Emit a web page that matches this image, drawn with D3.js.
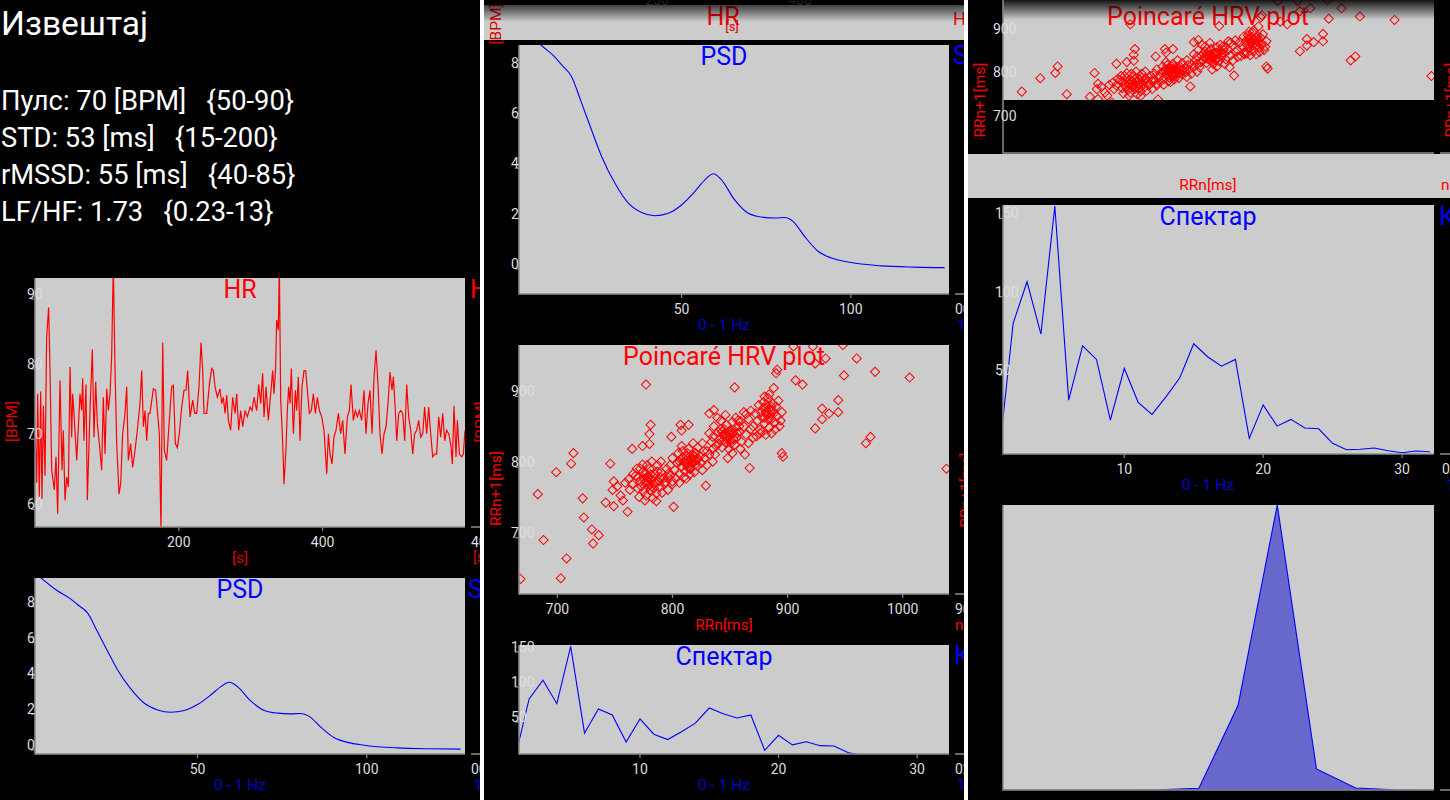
<!DOCTYPE html>
<html><head><meta charset="utf-8">
<script src="https://cdn.jsdelivr.net/npm/d3@7/dist/d3.min.js"></script>
<style>
html,body{margin:0;padding:0;background:#000;overflow:hidden}
svg{display:block}
text{font-family:Roboto,"Noto Sans",sans-serif;white-space:pre}
</style></head><body>
<svg id="chart" width="1450" height="800"></svg>
<script>
// ================= DATA =================
const reportTitle = "Извештај";
const reportLines = [
  "Пулс: 70 [BPM]   {50-90}",
  "STD: 53 [ms]   {15-200}",
  "rMSSD: 55 [ms]   {40-85}",
  "LF/HF: 1.73   {0.23-13}"
];

// HR tachogram: time [s] and heart rate [BPM]
const hrTime = [0,2.3,3.7,6,7.9,9.7,11.6,13.9,16.2,19,20.9,23.2,26.9,29.2,31.5,34.8,37.6,39.4,41.7,44,
46.4,48.7,51,52.4,54.2,58,62.6,64.9,66.3,68.1,70.9,72.8,76.5,79.7,82.1,84.4,86.7,89.5,92.7,95,
97.4,99.7,102,104.3,106.6,108.9,111.3,113.6,116.8,119.1,121.9,125.2,127.5,129.8,133,135.8,139.1,142.3,146,148.4,
150.7,153,155.3,157.6,159.9,164.6,167.8,170.1,172.9,175.2,177.6,179.9,183.1,186.8,190.1,192.4,195.2,198,200.7,204,
207.2,210,212.3,215.6,219.3,222.1,224.8,228.1,230.9,233.2,235,238.8,242.5,245.7,248,250.3,253.6,257.3,259.6,261.9,
264.3,266.6,268.9,272.1,274.9,278.2,280.5,283.3,286,288.8,292.1,295.3,299,301.8,304.6,308.3,311.1,313.9,316.6,318.5,
321.3,324.5,327.8,330.5,332.4,334.7,336.1,338.4,339.8,341.7,344.5,346.3,349.1,350.9,352.8,354.7,356.5,359.3,362.1,363.9,
366.2,368.6,371.3,374.1,376.4,378.8,381.5,384.3,387.1,389.9,392.7,395.5,398.7,401.9,405.7,408,410.3,413.1,415.8,418.6,
421.9,425.1,427.9,431.1,434.4,437.2,439.5,442.7,445.5,448.3,451.1,454.3,457.6,460.3,463.1,465.9,468.7,471.5,474.3,477,
479.8,482.6,485.4,488.2,490.9,493.7,496.5,498.4,501.1,503,505.8,508.6,511.4,514.1,516.9,519.7,522.5,525.3,528,530.8,
533.6,536.4,539.2,541.9,544.7,547.5,550.3,553.1,555.8,558.6,561.4,564.2,567,569.8,572.5,575.3,578.1,580.4,582.7,585.5,
587.4,590.2,593.4,595.7,598];
const hrBpm = [70.5,63,75.7,61,76,60.7,74,64,83.8,88,79,64.8,62,66.7,58.6,77.6,64.8,70.5,60.5,63.8,
62.4,79.5,69.5,75.7,72.9,66.2,75.7,73.3,77.9,69,77,60.5,73.3,82,69.5,77.4,71.4,68.6,64.8,75.2,
67.1,76.4,73.3,75.7,81,94,79,68.6,61.4,62.8,70,72.9,76.7,66.2,68.6,65.2,67.6,70.5,74.3,79,
71,73.3,69,72.9,72.9,76.4,76.2,73.3,70,56,83,67.6,66.2,71.9,76.7,76.9,68.6,68,70,73.8,
76.2,76.2,79,72.4,74.8,72.9,72.9,76.7,83,79,72.9,72.9,77,79.3,79,76.7,75.2,76.4,74.3,75.2,
72.9,75.5,71.9,70.5,75.2,72.9,75.7,70.5,73.3,71,73.3,72.4,73.8,73.3,75.2,73.3,77,74.3,78.6,72.4,
76.7,71.9,75.7,79,75.7,79.5,86.2,84.8,94,74.8,68.6,62.8,68,73.3,76.7,74.3,79.3,70,76.2,73.3,
78.1,69,76.7,79,79,76.2,72.9,73.3,75.7,72.9,75.2,73.3,72.4,70.5,64.3,70,67.1,65.7,69.5,70.5,
72.9,70,71.9,67.1,72.4,73.3,77,71.9,73.3,72.4,73.3,71.9,76.2,70,74.3,76.2,70,78.1,81.9,77,
70,67.1,70,71,74.3,78.8,76.2,78.1,73.3,69,72.9,73.3,72.9,69,77,72.4,70.5,67.1,70,70.5,
71.9,69.5,70,73.8,70,73.8,70,66.7,67.1,67.1,72.4,69.5,72.9,69,70.5,70,68.6,65.7,74,66.7,
71.9,67.1,66.7,67.1,70.5];
const hrTicksX = [200, 400];
const hrTicksY = [60, 70, 80, 90];

// PSD
const psdFreq = [3.5,8.5,12.4,14.6,17.5,20.5,23.4,26.4,30.3,34.3,38.2,42.1,46.1,50,53.9,56.9,59.4,61.8,65.7,69.7,73.6,77.5,80.5,83,86.4,90.4,94.3,99.2,109,118.9,127.7];
const psdPower = [9.65,8.9,8.45,8.11,7.65,6.59,5.53,4.47,3.41,2.61,2.24,2.11,2.21,2.54,3.07,3.54,3.78,3.54,2.74,2.21,2.06,2.02,2.04,1.88,1.28,0.69,0.43,0.27,0.12,0.07,0.05];
const psdTicksX = [50, 100];
const psdTicksY = [0, 2, 4, 6, 8];

// Poincaré: [RRn, RRn+1] in ms
const rrPairs = [
[668,634],[683,754],[688,689],[699,785],[703,635],[708,663],[712,797],[714,812],[722,748],[723,721],
[730,704],[731,684],[736,696],[746,797],[742,742],[749,737],[748,760],[749,772],[759,770],[761,729],
[765,818],[774,822],[777,909],[781,852],[780,839],[780,825],[799,835],[801,736],[807,852],[808,844],
[814,852],[829,766],[832,868],[836,873],[854,905],[859,857],[864,867],[867,791],[876,840],[880,892],
[888,904],[890,925],[891,930],[895,812],[896,807],[907,915],[913,909],[924,847],[924,939],[930,875],
[930,860],[936,868],[933,946],[944,887],[944,870],[949,922],[960,946],[968,826],[972,835],[976,927],
[1006,919],[1038,790],[905,963],[922,963],[948,965],
[762,775],[765,768],[768,780],[770,762],[772,772],[774,785],[775,758],[776,770],[778,778],[779,765],
[780,790],[781,760],[782,775],[784,768],[785,782],[786,755],[788,772],[789,764],[790,785],[792,776],
[793,768],[795,790],[796,760],[798,780],[800,772],[771,750],[777,752],[783,748],[769,790],[774,796],
[787,795],[791,756],[766,783],[773,765],[779,777],[784,762],[789,778],[794,771],[797,784],[763,760],
[778,795],[782,800],[776,745],[786,744],[770,778],[772,790],[781,782],[779,771],[783,779],[777,783],
[785,770],[780,767],[775,776],[787,786],[782,765],
[796,778],[798,795],[800,805],[802,788],[804,798],[805,812],[806,783],[807,803],[808,793],[809,815],
[810,800],[811,786],[812,808],[813,796],[814,818],[815,790],[816,804],[817,810],[818,798],[819,785],
[820,812],[821,802],[822,794],[824,808],[825,798],[826,788],[828,805],[830,795],[832,810],[803,776],
[806,770],[810,778],[815,782],[812,776],[818,826],[822,820],[808,822],[827,815],[835,800],[800,768],
[812,802],[814,806],[816,796],[818,802],[813,792],[811,798],[817,806],[815,800],[820,796],[809,806],
[813,812],[819,808],[806,800],[822,804],[816,790],
[830,815],[832,840],[834,828],[836,850],[838,822],[840,842],[841,832],[842,858],[843,820],[844,838],
[845,846],[846,828],[847,852],[848,836],[849,818],[850,844],[851,830],[852,856],[853,840],[854,824],
[855,848],[856,834],[858,842],[860,828],[862,850],[864,838],[866,826],[868,846],[870,834],[839,862],
[846,866],[855,862],[837,810],[852,812],[859,818],[863,810],[848,805],[835,835],[857,858],[866,860],
[846,840],[848,832],[850,838],[844,830],[852,844],[847,826],[849,842],[845,836],[851,826],[853,832],
[842,846],[856,840],[840,826],[858,850],[843,842],
[870,850],[872,868],[874,858],[875,880],[876,845],[877,870],[878,862],[879,884],[880,854],[881,876],
[882,866],[883,890],[884,848],[885,872],[886,860],[887,882],[888,868],[889,855],[890,878],[891,864],
[892,886],[893,850],[884,895],[878,842],[886,840],[873,836],[881,838],[889,845],[895,870],[894,858],
[882,868],[884,874],[880,862],[886,878],[883,860],[881,870],[885,866],[879,876],[887,872],[882,880],
[790,800],[826,826],[835,818],[862,870],[868,872],[755,752],[752,765],[757,745]
];
const rrTicksX = [700, 800, 900, 1000];
const rrTicksY = [700, 800, 900];

// Spectrum
const specFreq = [1,2,3,4,5,6,7,8,9,10,11,12,13,14,15,16,17,18,19,20,21,22,23,24,25,26,27,28,29,30,31,32];
const specPower = [0,83,109.6,76.2,158,34,68.7,60,21.3,54.3,32.6,24.9,36.1,48.3,70,61.7,55.7,60,9.6,31,17.4,21.7,16.2,15.7,6.4,2.3,2.6,3.4,1.7,0.4,1.5,1];
const specTicksX = [10, 20, 30];
const specTicksY = [50, 100, 150];

// Histogram (area)
const histBin = [0,1,2,3,4,5,6,7,8,9,10,11];
const histShare = [0,0,0,0,0.1,0.6,29.7,100,7.4,0.7,0.1,0];

// ================= DRAWING =================
const svg = d3.select("#chart");
const defs = svg.append("defs");
let clipN = 0;
function clip(x, y, w, h) {
  const id = "cp" + (clipN++);
  defs.append("clipPath").attr("id", id).append("rect")
    .attr("x", x).attr("y", y).attr("width", w).attr("height", h);
  return `url(#${id})`;
}
const grad = defs.append("linearGradient").attr("id", "topfade")
  .attr("x1", 0).attr("y1", 0).attr("x2", 0).attr("y2", 1);
grad.append("stop").attr("offset", "0%").attr("stop-color", "#000").attr("stop-opacity", 0.9);
grad.append("stop").attr("offset", "100%").attr("stop-color", "#000").attr("stop-opacity", 0);

svg.append("rect").attr("width", 1450).attr("height", 800).attr("fill", "#000");

const COLS = [{x: 0, w: 480}, {x: 484, w: 480}, {x: 968, w: 482}];
const colG = COLS.map(c => svg.append("g").attr("clip-path", clip(c.x, 0, c.w, 800)));
svg.append("rect").attr("x", 480).attr("y", 0).attr("width", 4).attr("height", 800).attr("fill", "#fff");
svg.append("rect").attr("x", 964).attr("y", 0).attr("width", 4).attr("height", 800).attr("fill", "#fff");

const GREY = "#cccccc", AXIS = "#8c8c8c", TICK = "#dedede";
const RED = "#ff0000", BLUE = "#0000ff", DRED = "#dd0000", DBLUE = "#0000cc";

function txt(g, x, y, s, o = {}) {
  const t = g.append("text").attr("x", x).attr("y", y).text(s)
    .attr("fill", o.fill || "#fff").attr("font-size", o.size || 14)
    .attr("text-anchor", o.anchor || "start");
  if (o.rotate) t.attr("transform", `rotate(${o.rotate},${x},${y})`);
  return t;
}

function panel(g, o) {
  const L = o.left, T = o.top, W = o.width, H = o.height, B = T + H, R = L + W;
  const x = d3.scaleLinear().domain(o.xDomain).range([L, R]);
  const y = d3.scaleLinear().domain(o.yDomain).range([B, T]);
  g.append("rect").attr("x", L).attr("y", T).attr("width", W).attr("height", H).attr("fill", GREY);
  const inner = g.append("g").attr("clip-path", clip(L, T, W, H));
  o.draw(inner, x, y);
  g.append("path").attr("d", `M${L},${T}V${B}H${R}`).attr("fill", "none")
    .attr("stroke", AXIS).attr("stroke-width", 1.5);
  g.append("line").attr("x1", R + 6).attr("x2", R + 16).attr("y1", B).attr("y2", B)
    .attr("stroke", AXIS).attr("stroke-width", 1.5);
  const dy = o.yLabelDy || 0;
  (o.yTicks || []).forEach(v => {
    const yy = y(v) + dy;
    g.append("line").attr("x1", L - 4).attr("x2", L).attr("y1", yy).attr("y2", yy)
      .attr("stroke", AXIS).attr("stroke-width", 1.2);
    txt(g, L - 8, yy, String(v), {fill: TICK, size: 14});
  });
  (o.xTicks || []).forEach(v => {
    g.append("line").attr("x1", x(v)).attr("x2", x(v)).attr("y1", B).attr("y2", B + 4)
      .attr("stroke", AXIS).attr("stroke-width", 1.2);
    txt(g, x(v), B + 20, String(v), {fill: TICK, size: 14, anchor: "middle"});
  });
  const cx = o.col + 240;
  if (o.title) txt(g, cx, T + 20, o.title, {fill: o.titleColor, size: 25, anchor: "middle"});
  if (o.xLabel) txt(g, cx, B + 36, o.xLabel, {fill: o.xLabelColor, size: 15.5, anchor: "middle"});
  if (o.yLabel) txt(g, o.col + 17, (T + B + 38) / 2, o.yLabel,
    {fill: o.yLabelColor, size: 15.5, anchor: "middle", rotate: -90});
  return {x, y};
}

// --- draw helpers ---
const hrLine = (g, x, y) => g.append("path")
  .attr("d", d3.line().x((d, i) => x(hrTime[i])).y(d => y(d))(hrBpm))
  .attr("fill", "none").attr("stroke", RED).attr("stroke-width", 1.2);
const psdLine = (g, x, y) => g.append("path")
  .attr("d", d3.line().curve(d3.curveMonotoneX).x((d, i) => x(psdFreq[i])).y(d => y(d))(psdPower))
  .attr("fill", "none").attr("stroke", BLUE).attr("stroke-width", 1.1);
const specLine = (g, x, y) => g.append("path")
  .attr("d", d3.line().x((d, i) => x(specFreq[i])).y(d => y(d))(specPower))
  .attr("fill", "none").attr("stroke", BLUE).attr("stroke-width", 1.1);
const diamond = d3.symbol(d3.symbolSquare, 42)();
const rrPoints = (g, x, y) => g.selectAll("path.pt").data(rrPairs).join("path")
  .attr("class", "pt").attr("d", diamond)
  .attr("transform", d => `translate(${x(d[0])},${y(d[1])}) rotate(45)`)
  .attr("fill", "none").attr("stroke", RED).attr("stroke-width", 1);

// ---------- Column 1 ----------
const g1 = colG[0];
txt(g1, 1, 35, reportTitle, {size: 33.5});
reportLines.forEach((s, i) => txt(g1, 1, [110, 147, 184, 221][i], s, {size: 27.3}));

panel(g1, {col: 0, left: 35, top: 278, width: 430, height: 249,
  xDomain: [0, 598], yDomain: [56.7, 92.2], xTicks: hrTicksX, yTicks: hrTicksY, yLabelDy: 5.5,
  title: "HR", titleColor: RED, xLabel: "[s]", xLabelColor: DRED, yLabel: "[BPM]", yLabelColor: DRED,
  draw: hrLine});
panel(g1, {col: 0, left: 35, top: 578, width: 430, height: 176,
  xDomain: [2, 129], yDomain: [-0.22, 9.6], xTicks: psdTicksX, yTicks: psdTicksY,
  title: "PSD", titleColor: BLUE, xLabel: "0 - 1 Hz", xLabelColor: DBLUE, draw: psdLine});
// edge fragments col1
txt(g1, 470, 298, "HR", {fill: RED, size: 25});
txt(g1, 486, 422, "[BPM]", {fill: DRED, size: 15.5, anchor: "middle", rotate: -90});
txt(g1, 471, 547, "400", {fill: TICK, size: 14});
txt(g1, 473, 562, "[s]", {fill: DRED, size: 14});
txt(g1, 468, 598, "S", {fill: BLUE, size: 25});
txt(g1, 471, 774, "00", {fill: TICK, size: 14});
txt(g1, 474, 790, "1", {fill: DBLUE, size: 15.5});

// ---------- Column 2 ----------
const g2 = colG[1];
// collapsed HR strip at top
g2.append("rect").attr("x", 484).attr("y", 5).attr("width", 480).attr("height", 35).attr("fill", GREY);
txt(g2, 657, 5, "200", {fill: "#999", size: 14, anchor: "middle"});
txt(g2, 800, 5, "400", {fill: "#999", size: 14, anchor: "middle"});
txt(g2, 723, 25, "HR", {fill: RED, size: 25, anchor: "middle"});
txt(g2, 732, 31, "[s]", {fill: DRED, size: 13, anchor: "middle"});
txt(g2, 501, 24, "[BPM]", {fill: DRED, size: 15.5, anchor: "middle", rotate: -90});
txt(g2, 953, 25, "HR", {fill: RED, size: 18});
g2.append("rect").attr("x", 484).attr("y", 0).attr("width", 480).attr("height", 22).attr("fill", "url(#topfade)");

panel(g2, {col: 484, left: 519, top: 45, width: 430, height: 249,
  xDomain: [2, 129], yDomain: [-1, 8.9], xTicks: psdTicksX, yTicks: psdTicksY,
  title: "PSD", titleColor: BLUE, xLabel: "0 - 1 Hz", xLabelColor: DBLUE, draw: psdLine});
panel(g2, {col: 484, left: 519, top: 345, width: 430, height: 249,
  xDomain: [666.7, 1040.2], yDomain: [612.7, 965], xTicks: rrTicksX, yTicks: rrTicksY, yLabelDy: 5.5,
  title: "Poincaré HRV plot", titleColor: RED, xLabel: "RRn[ms]", xLabelColor: RED,
  yLabel: "RRn+1[ms]", yLabelColor: RED, draw: rrPoints});
panel(g2, {col: 484, left: 519, top: 645, width: 430, height: 109,
  xDomain: [1.27, 32.3], yDomain: [4.3, 160], xTicks: specTicksX, yTicks: specTicksY,
  title: "Спектар", titleColor: BLUE, xLabel: "0 - 1 Hz", xLabelColor: DBLUE, draw: specLine});
// edge fragments col2
txt(g2, 953, 64, "S", {fill: BLUE, size: 25});
txt(g2, 955, 314, "00", {fill: TICK, size: 14});
txt(g2, 957, 330, "1", {fill: DBLUE, size: 15.5});
txt(g2, 971, 490, "RRn+1[ms]", {fill: RED, size: 15.5, anchor: "middle", rotate: -90});
txt(g2, 955, 614, "900", {fill: TICK, size: 14});
txt(g2, 955, 630, "n[ms]", {fill: RED, size: 15.5});
txt(g2, 954, 664, "К", {fill: BLUE, size: 25});
txt(g2, 955, 774, "02", {fill: TICK, size: 14});
txt(g2, 957, 790, "1", {fill: DBLUE, size: 15.5});

// ---------- Column 3 ----------
const g3 = colG[2];
{ // collapsed Poincaré at top
  const L = 1003, R = 1434, B = 153;
  const x = d3.scaleLinear().domain([666.7, 1040.2]).range([L, R]);
  const y = d3.scaleLinear().domain([612.7, 965]).range([B, 0]);
  g3.append("rect").attr("x", L).attr("y", 0).attr("width", R - L).attr("height", 100).attr("fill", GREY);
  const inner = g3.append("g").attr("clip-path", clip(L, 0, R - L, 100));
  rrPoints(inner, x, y);
  txt(g3, 1208, 25, "Poincaré HRV plot", {fill: RED, size: 25, anchor: "middle"});
  g3.append("rect").attr("x", L).attr("y", 0).attr("width", R - L).attr("height", 20).attr("fill", "url(#topfade)");
  g3.append("path").attr("d", `M${L},0V${B}H${R}`).attr("fill", "none").attr("stroke", AXIS).attr("stroke-width", 1.5);
  g3.append("line").attr("x1", R + 6).attr("x2", R + 16).attr("y1", B).attr("y2", B).attr("stroke", AXIS).attr("stroke-width", 1.5);
  rrTicksY.forEach(v => txt(g3, L - 10, y(v) + 5.5, String(v), {fill: TICK, size: 14}));
  txt(g3, 985, 100, "RRn+1[ms]", {fill: RED, size: 15.5, anchor: "middle", rotate: -90});
  txt(g3, 1456, 100, "RRn+1[ms]", {fill: RED, size: 15.5, anchor: "middle", rotate: -90});
  g3.append("rect").attr("x", 968).attr("y", 154).attr("width", 482).attr("height", 44).attr("fill", GREY);
  txt(g3, 1208, 190, "RRn[ms]", {fill: RED, size: 15.5, anchor: "middle"});
  txt(g3, 1441, 190, "n[ms]", {fill: RED, size: 15.5});
}
panel(g3, {col: 968, left: 1003, top: 205, width: 431, height: 249,
  xDomain: [1.27, 32.3], yDomain: [-0.4, 158.6], xTicks: specTicksX, yTicks: specTicksY,
  title: "Спектар", titleColor: BLUE, xLabel: "0 - 1 Hz", xLabelColor: DBLUE, draw: specLine});
panel(g3, {col: 968, left: 1003, top: 505, width: 431, height: 285,
  xDomain: [0, 11], yDomain: [0, 100],
  draw: (g, x, y) => g.append("path")
    .attr("d", d3.area().x((d, i) => x(histBin[i])).y0(y(0)).y1(d => y(d))(histShare))
    .attr("fill", "#6868cc").attr("stroke", BLUE).attr("stroke-width", 1.1)});
// edge fragments col3
txt(g3, 1439, 225, "К", {fill: BLUE, size: 25});
txt(g3, 1442, 474, "02", {fill: TICK, size: 14});
txt(g3, 1446, 490, "1", {fill: DBLUE, size: 15.5});
</script>
</body></html>
